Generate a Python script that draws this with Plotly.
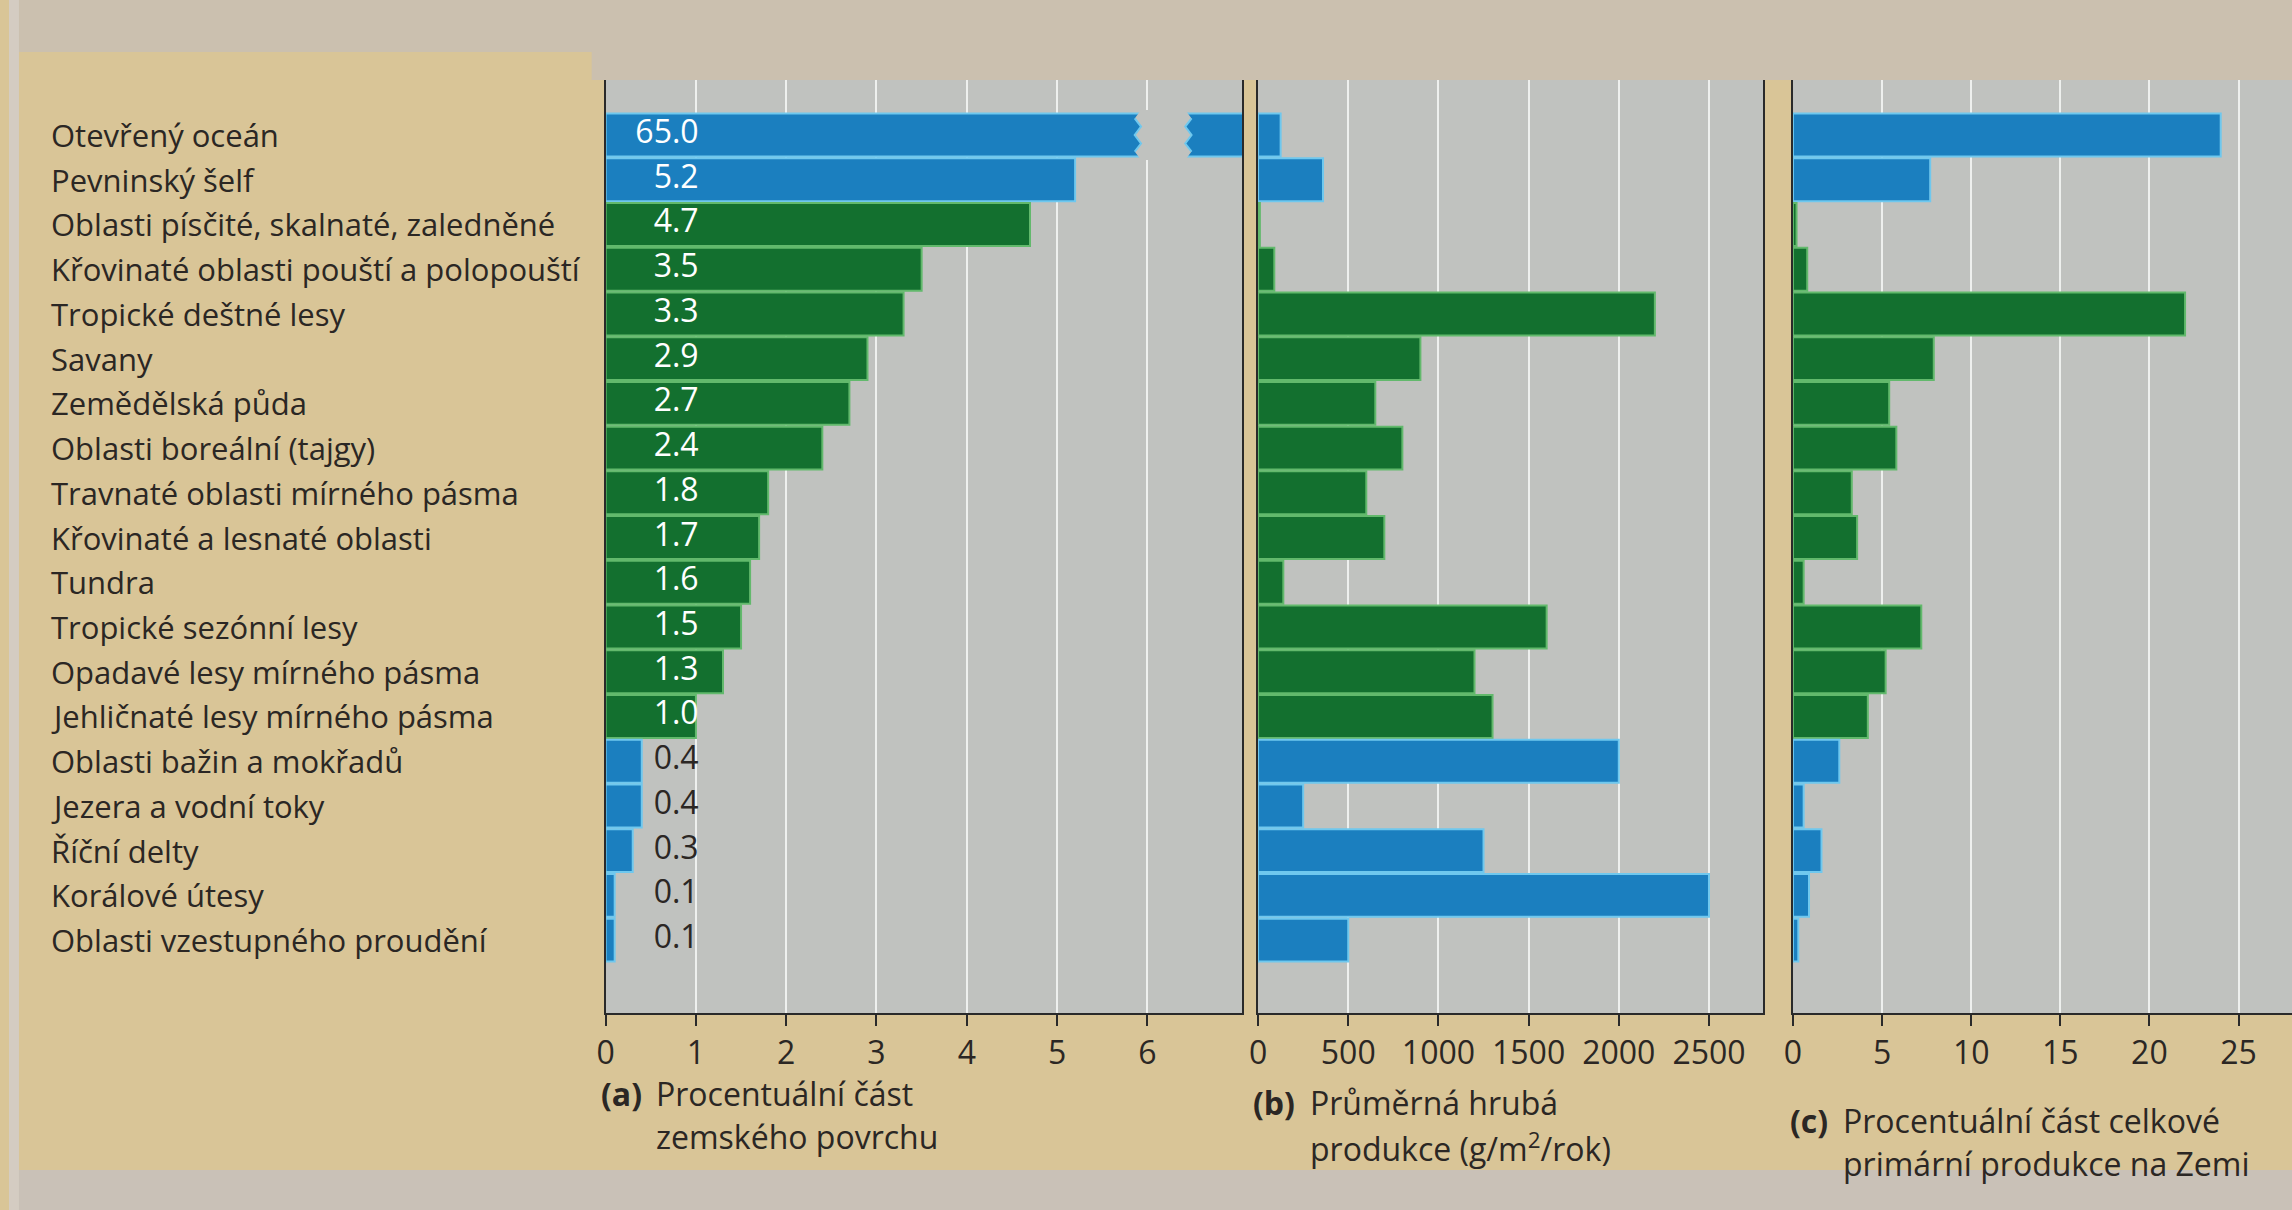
import plotly.graph_objects as go

# ---------------- data ----------------
categories = [
    "Otevřený oceán",
    "Pevninský šelf",
    "Oblasti písčité, skalnaté, zaledněné",
    "Křovinaté oblasti pouští a polopouští",
    "Tropické deštné lesy",
    "Savany",
    "Zemědělská půda",
    "Oblasti boreální (tajgy)",
    "Travnaté oblasti mírného pásma",
    "Křovinaté a lesnaté oblasti",
    "Tundra",
    "Tropické sezónní lesy",
    "Opadavé lesy mírného pásma",
    "Jehličnaté lesy mírného pásma",
    "Oblasti bažin a mokřadů",
    "Jezera a vodní toky",
    "Říční delty",
    "Korálové útesy",
    "Oblasti vzestupného proudění",
]
ecosystem_type = ["voda", "voda", "souš", "souš", "souš", "souš", "souš", "souš", "souš",
                  "souš", "souš", "souš", "souš", "souš", "voda", "voda", "voda", "voda", "voda"]

surface_pct = [65.0, 5.2, 4.7, 3.5, 3.3, 2.9, 2.7, 2.4, 1.8, 1.7, 1.6, 1.5, 1.3, 1.0, 0.4, 0.4, 0.3, 0.1, 0.1]
gross_production = [125, 360, 10, 90, 2200, 900, 650, 800, 600, 700, 140, 1600, 1200, 1300, 2000, 250, 1250, 2500, 500]
production_share = [24.0, 7.7, 0.2, 0.8, 22.0, 7.9, 5.4, 5.8, 3.3, 3.6, 0.6, 7.2, 5.2, 4.2, 2.6, 0.6, 1.6, 0.9, 0.3]

ticks_a = [0, 1, 2, 3, 4, 5, 6]
ticks_b = [0, 500, 1000, 1500, 2000, 2500]
ticks_c = [0, 5, 10, 15, 20, 25]

captions = {
    "a": ["Procentuální část", "zemského povrchu"],
    "b": ["Průměrná hrubá", "produkce (g/m<sup>2</sup>/rok)"],
    "c": ["Procentuální část celkové", "primární produkce na Zemi"],
}

# ---------------- style ----------------
W, H = 2292, 1210
BEIGE = "#d9c597"
TAUPE = "#cbc0af"
PLOT_BG = "#c0c2bf"
BLUE = "#1b7fbf"
BLUE_LIGHT = "#6fc8ee"
GREEN = "#13702f"
GREEN_LIGHT = "#62b96c"
TEXT = "#2b2724"
FONT = "Open Sans"

fill_colors = [BLUE if t == "voda" else GREEN for t in ecosystem_type]
line_colors = [BLUE_LIGHT if t == "voda" else GREEN_LIGHT for t in ecosystem_type]
rows = list(range(len(categories)))

def px_x(p):
    return p / W

def px_y(p):
    return 1 - p / H

top_px, bottom_px = 80, 1013
ydom = [px_y(bottom_px), px_y(top_px)]
yrange = [19.63, -1.23]

fig = go.Figure()

panels = [
    ("x", "y", surface_pct, [599, 1238], [0, 7.05], ticks_a),
    ("x2", "y2", gross_production, [1254, 1761], [0, 2800], ticks_b),
    ("x3", "y3", production_share, [1791, 2292], [0, 28], ticks_c),
]

for xa, ya, vals, dom, rng, tks in panels:
    fig.add_trace(go.Bar(
        x=vals, y=rows, orientation="h", xaxis=xa, yaxis=ya,
        marker=dict(color=fill_colors, line=dict(color=line_colors, width=2)),
        hoverinfo="x+y", showlegend=False,
    ))

# value labels in panel (a)
fig.add_trace(go.Scatter(
    x=[1.03] * len(rows), y=rows, mode="text", xaxis="x", yaxis="y",
    text=[f"{v:.1f}" for v in surface_pct],
    textposition="middle left",
    textfont=dict(family=FONT, size=32,
                  color=["white" if v >= 1.0 else TEXT for v in surface_pct]),
    showlegend=False, hoverinfo="skip",
))

layout_axes = {}
for i, (xa, ya, vals, dom, rng, tks) in enumerate(panels):
    xkey = "xaxis" if i == 0 else f"xaxis{i+1}"
    ykey = "yaxis" if i == 0 else f"yaxis{i+1}"
    layout_axes[xkey] = dict(
        domain=[px_x(dom[0]), px_x(dom[1])], range=rng, anchor=ya,
        tickmode="array", tickvals=tks, ticktext=[str(t) for t in tks],
        showgrid=True, gridcolor="#eef0ee", gridwidth=2, zeroline=False,
        showline=True, linecolor="#2a2a2a", linewidth=2,
        ticks="outside", ticklen=11, tickwidth=2, tickcolor="#2a2a2a",
        tickfont=dict(family=FONT, size=32, color=TEXT),
        fixedrange=True,
    )
    layout_axes[ykey] = dict(
        domain=ydom, range=yrange, anchor=xa, showticklabels=False,
        showgrid=False, zeroline=False,
        showline=True, linecolor="#2a2a2a", linewidth=2,
        mirror=(i < 2), ticks="", fixedrange=True,
    )

annotations = []
for i, cat in enumerate(categories):
    annotations.append(dict(
        xref="paper", yref="y", x=px_x(40), y=i, xanchor="left", yanchor="middle",
        text=cat, showarrow=False, font=dict(family=FONT, size=31, color=TEXT),
    ))

cap_pos = {
    "a": (592, 648, 1093, 1136),
    "b": (1247, 1304, 1102, 1147),
    "c": (1786, 1839, 1120, 1163),
}
for key, (xl, xt, y1, y2) in cap_pos.items():
    annotations.append(dict(
        xref="paper", yref="paper", x=px_x(xl), y=px_y(y1), xanchor="left", yanchor="middle",
        text=f"<b>({key})</b>", showarrow=False, font=dict(family=FONT, size=32, color=TEXT),
    ))
    annotations.append(dict(
        xref="paper", yref="paper", x=px_x(xt), y=px_y(y1), xanchor="left", yanchor="middle",
        text=captions[key][0], showarrow=False, font=dict(family=FONT, size=32, color=TEXT),
    ))
    annotations.append(dict(
        xref="paper", yref="paper", x=px_x(xt), y=px_y(y2), xanchor="left", yanchor="middle",
        text=captions[key][1], showarrow=False, font=dict(family=FONT, size=32, color=TEXT),
    ))

# background bands of the photographed page and the axis break
shapes = [
    dict(type="rect", xref="paper", yref="paper", x0=0, x1=1, y0=px_y(52), y1=1,
         fillcolor=TAUPE, line=dict(width=0), layer="below"),
    dict(type="rect", xref="paper", yref="paper", x0=px_x(585), x1=1, y0=px_y(top_px), y1=px_y(50),
         fillcolor=TAUPE, line=dict(width=0), layer="below"),
    dict(type="rect", xref="paper", yref="paper", x0=0, x1=1, y0=0, y1=px_y(1170),
         fillcolor="#c9c1b7", line=dict(width=0), layer="below"),
    dict(type="rect", xref="paper", yref="paper", x0=0, x1=px_x(10), y0=0, y1=1,
         fillcolor="#d4ccc2", line=dict(width=0), layer="below"),
]

bl, br, amp = 5.93, 6.42, 0.07
yt, yb = -0.56, 0.56
zig_y = [yt, -0.37, -0.19, 0.0, 0.19, 0.37, yb]
left_edge = [(bl - (amp if k % 2 else 0), yy) for k, yy in enumerate(zig_y)]
right_edge = [(br + (amp if k % 2 else 0), yy) for k, yy in enumerate(zig_y)]
pts = left_edge + right_edge[::-1]
path = "M " + " L ".join(f"{x},{y}" for x, y in pts) + " Z"
shapes.append(dict(type="path", xref="x", yref="y", path=path,
                   fillcolor=PLOT_BG, line=dict(width=0), layer="above"))
for edge in (left_edge, right_edge):
    p = "M " + " L ".join(f"{x},{y}" for x, y in edge[1:-1])
    shapes.append(dict(type="path", xref="x", yref="y", path=p,
                       line=dict(color=BLUE_LIGHT, width=2), layer="above"))

fig.update_layout(
    width=W, height=H,
    margin=dict(l=0, r=0, t=0, b=0),
    paper_bgcolor=BEIGE, plot_bgcolor=PLOT_BG,
    bargap=0.04,
    annotations=annotations, shapes=shapes,
    font=dict(family=FONT, color=TEXT),
    **layout_axes,
)

fig.write_html("out.html")
